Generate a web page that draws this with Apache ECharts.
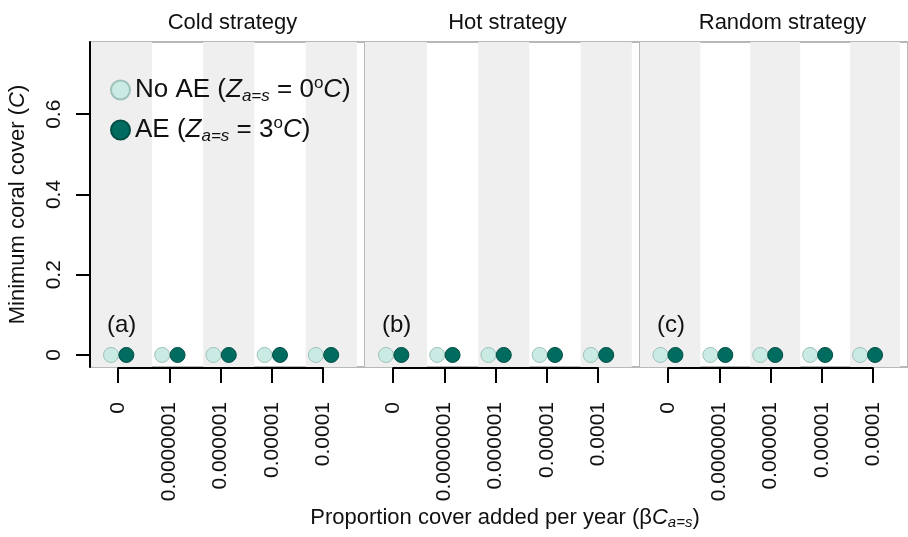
<!DOCTYPE html>
<html>
<head>
<meta charset="utf-8">
<script src="https://cdn.jsdelivr.net/npm/echarts@6/dist/echarts.min.js"></script>
<style>
  html, body { margin: 0; padding: 0; background: #fff; }
  #chart { width: 908px; height: 537px; }
</style>
</head>
<body>
<div id="chart"></div>
<script>
// data
const categories = ["0", "0.0000001", "0.000001", "0.00001", "0.0001"];
const strategies = ["Cold strategy", "Hot strategy", "Random strategy"];
const panelTags = ["(a)", "(b)", "(c)"];
// minimum coral cover, one row per strategy
const noAE = [
  [0, 0, 0, 0, 0],
  [0, 0, 0, 0, 0],
  [0, 0, 0, 0, 0]
];
const withAE = [
  [0, 0, 0, 0, 0],
  [0, 0, 0, 0, 0],
  [0, 0, 0, 0, 0]
];
const yTicks = [0, 0.2, 0.4, 0.6];

const FONT = "'Liberation Sans', Arial, Helvetica, sans-serif";
const LIGHT = "#c9ebe4";
const DARK = "#006b5f";
const BAND = "#efefef";

// layout
const panelLeft = [90, 365, 640];
const panelW = 275;
const plotTop = 42, plotH = 325;
const xMin = 0.45, xMax = 5.82;
const yMin = -0.03, yMax = 0.78;
const pxPerUnit = panelW / (xMax - xMin);

const chart = echarts.init(document.getElementById("chart"));

const grid = [], xAxis = [], yAxis = [], series = [], title = [], graphic = [];

strategies.forEach((s, p) => {
  // data panel
  grid.push({
    left: panelLeft[p], top: plotTop, width: panelW, height: plotH,
    show: true, borderColor: "#b8b8b8", borderWidth: 2, backgroundColor: "#fff"
  });
  xAxis.push({
    type: "value", gridIndex: p, min: xMin, max: xMax, show: false,
    splitLine: { show: false }
  });
  yAxis.push({
    type: "value", gridIndex: p, min: yMin, max: yMax, show: false,
    splitLine: { show: false }
  });

  // bands behind the points
  const bands = [];
  for (let i = 0; i < categories.length; i += 2) {
    const a = i === 0 ? xMin : i + 0.66;
    const b = Math.min(i + 1.66, xMax);
    bands.push([{ xAxis: a }, { xAxis: b }]);
  }

  series.push({
    name: "No AE", type: "scatter", xAxisIndex: p, yAxisIndex: p,
    symbolSize: 15,
    itemStyle: { color: LIGHT, borderColor: "#9fc1ba", borderWidth: 1, opacity: 1 },
    data: noAE[p].map((v, i) => [i + 1 - 0.14, v]),
    markArea: { silent: true, itemStyle: { color: BAND }, data: bands },
    z: 3
  });
  series.push({
    name: "AE", type: "scatter", xAxisIndex: p, yAxisIndex: p,
    symbolSize: 15,
    itemStyle: { color: DARK, borderColor: "#004f46", borderWidth: 1, opacity: 1 },
    data: withAE[p].map((v, i) => [i + 1 + 0.16, v]),
    z: 4
  });

  title.push({
    text: s, left: panelLeft[p] + panelW / 2, top: 7, textAlign: "center",
    textStyle: { fontSize: 22, fontWeight: "normal", fontFamily: FONT, color: "#111" }
  });

  graphic.push({
    type: "text", left: panelLeft[p] + 17, top: 313, z: 100,
    style: { text: panelTags[p], fontSize: 24, fontFamily: FONT, fill: "#111" }
  });
});

// R-style x axes, from first to last category only
strategies.forEach((s, p) => {
  const gi = grid.length;
  grid.push({
    left: panelLeft[p] + (1 - xMin) * pxPerUnit,
    width: (categories.length - 1) * pxPerUnit,
    top: plotTop + plotH, height: 1, z: 10
  });
  xAxis.push({
    type: "value", gridIndex: gi, min: 1, max: categories.length, interval: 1,
    position: "bottom", z: 10,
    axisLine: { show: true, lineStyle: { color: "#000", width: 2 } },
    axisTick: { show: true, length: 15, lineStyle: { color: "#000", width: 2 } },
    axisLabel: {
      rotate: 90, margin: 34, fontSize: 21, fontFamily: FONT, color: "#111",
      formatter: v => categories[Math.round(v) - 1]
    },
    splitLine: { show: false }
  });
  yAxis.push({ type: "value", gridIndex: gi, min: 0, max: 1, show: false });
});

// y axis in its own thin grid so the black line sits on top of the panel border
const yg = grid.length;
grid.push({ left: panelLeft[0], top: plotTop, width: 1, height: plotH, z: 10 });
xAxis.push({ type: "value", gridIndex: yg, min: 0, max: 1, show: false });
yAxis.push({
  type: "value", gridIndex: yg, min: yMin, max: yMax, z: 10,
  axisLine: { show: true, onZero: false, lineStyle: { color: "#000", width: 2 } },
  axisTick: { show: true, length: 14, customValues: yTicks, lineStyle: { color: "#000", width: 2 } },
  axisLabel: {
    customValues: yTicks, rotate: 90, margin: 25,
    fontSize: 21, fontFamily: FONT, color: "#111",
    formatter: v => (v === 0 ? "0" : v.toFixed(1))
  },
  splitLine: { show: false },
  name: "Minimum coral cover ({i|C})",
  nameLocation: "middle", nameRotate: 90, nameGap: 61, nameMoveOverlap: false,
  nameTextStyle: {
    fontSize: 22, fontFamily: FONT, color: "#111",
    rich: { i: { fontSize: 22, fontStyle: "italic", fontFamily: FONT, color: "#111" } }
  }
});

title.push({
  text: "Proportion cover added per year (β{i|C}{sub|a=s})",
  left: 500, top: 501, textAlign: "center",
  textStyle: {
    fontSize: 22, fontWeight: "normal", fontFamily: FONT, color: "#111",
    rich: {
      i: { fontSize: 22, fontStyle: "italic", fontFamily: FONT, color: "#111" },
      sub: { fontSize: 15, fontStyle: "italic", fontFamily: FONT, color: "#111", verticalAlign: "bottom", padding: [9, 0, 0, 0] }
    }
  }
});

const rich = {
  n: { fontSize: 26, fontFamily: FONT, color: "#111", lineHeight: 30 },
  i: { fontSize: 26, fontStyle: "italic", fontFamily: FONT, color: "#111", lineHeight: 30 },
  sub: { fontSize: 17, fontStyle: "italic", fontFamily: FONT, color: "#111", verticalAlign: "bottom", lineHeight: 30, padding: [11, 0, 0, 0] },
  sup: { fontSize: 17, fontFamily: FONT, color: "#111", verticalAlign: "top", lineHeight: 30, padding: [0, 0, 9, 0] }
};

chart.setOption({
  animation: false,
  title: title,
  grid: grid,
  xAxis: xAxis,
  yAxis: yAxis,
  legend: {
    orient: "vertical", left: 105, top: 70, itemGap: 10,
    icon: "circle", itemWidth: 19, itemHeight: 19,
    data: ["No AE", "AE"],
    textStyle: { rich: rich },
    formatter: name => name === "No AE"
      ? "{n|No AE (}{i|Z}{sub|a=s}{n| = 0}{sup|o}{i|C}{n|)}"
      : "{n|AE (}{i|Z}{sub|a=s}{n| = 3}{sup|o}{i|C}{n|)}"
  },
  graphic: graphic,
  series: series
});
</script>
</body>
</html>
